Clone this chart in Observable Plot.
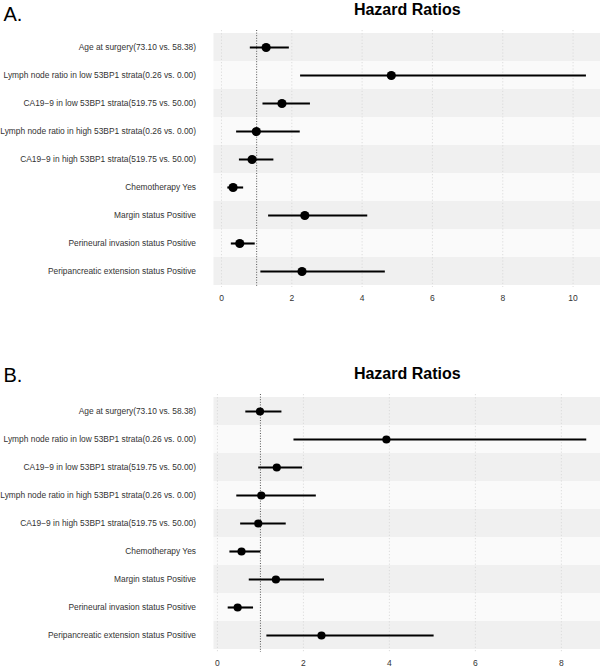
<!DOCTYPE html>
<html>
<head>
<meta charset="utf-8">
<script src="https://cdn.jsdelivr.net/npm/d3@7"></script>
<script src="https://cdn.jsdelivr.net/npm/@observablehq/plot@0.6"></script>
<style>
  html, body { margin: 0; padding: 0; background: #ffffff; }
  #chart { width: 600px; height: 668px; position: relative; overflow: hidden; }
  #chart svg { display: block; }
</style>
</head>
<body>
<div id="chart"></div>
<script>
// ---- data ----
const labels = [
  "Age at surgery(73.10 vs. 58.38)",
  "Lymph node ratio in low 53BP1 strata(0.26 vs. 0.00)",
  "CA19\u22129 in low 53BP1 strata(519.75 vs. 50.00)",
  "Lymph node ratio in high 53BP1 strata(0.26 vs. 0.00)",
  "CA19\u22129 in high 53BP1 strata(519.75 vs. 50.00)",
  "Chemotherapy Yes",
  "Margin status Positive",
  "Perineural invasion status Positive",
  "Peripancreatic extension status Positive"
];
const panelTitles = ["A.", "B."];
const chartTitle = "Hazard Ratios";

const hrA   = [1.27, 4.83, 1.72, 0.99, 0.87, 0.33, 2.37, 0.52, 2.29];
const lowA  = [0.82, 2.25, 1.18, 0.43, 0.51, 0.18, 1.34, 0.28, 1.12];
const highA = [1.93, 10.38, 2.53, 2.24, 1.49, 0.63, 4.16, 0.96, 4.66];

const hrB   = [0.99, 3.93, 1.38, 1.02, 0.95, 0.56, 1.36, 0.47, 2.42];
const lowB  = [0.66, 1.78, 0.96, 0.45, 0.54, 0.29, 0.74, 0.25, 1.15];
const highB = [1.50, 8.59, 1.98, 2.30, 1.60, 1.01, 2.49, 0.84, 5.04];

const ticksA = [0, 2, 4, 6, 8, 10];
const ticksB = [0, 2, 4, 6, 8];
const refLine = [1];

function panel(opts) {
  const rows = labels.map((label, i) => ({
    label, i, hr: opts.hr[i], low: opts.low[i], high: opts.high[i]
  }));
  return Plot.plot({
    width: 600,
    height: 334,
    marginLeft: 213.5,
    marginRight: 0,
    marginTop: opts.marginTop,
    marginBottom: opts.marginBottom,
    style: {
      fontFamily: "'Liberation Sans', Arial, Helvetica, sans-serif",
      fontSize: "8.4px",
      color: "#333",
      background: "transparent",
      overflow: "visible"
    },
    x: { domain: opts.domain },
    y: { domain: labels, padding: 0 },
    marks: [
      Plot.cell(rows.filter(d => d.i % 2 === 0), { y: "label", fill: "#f0f0f0" }),
      Plot.cell(rows.filter(d => d.i % 2 === 1), { y: "label", fill: "#fafafa" }),
      Plot.ruleX(opts.ticks, { stroke: "#d6d6d6", strokeWidth: 0.8, strokeDasharray: "1.2,2" }),
      Plot.ruleX(refLine, { stroke: "#444", strokeWidth: 0.9, strokeDasharray: "1,1.6" }),
      Plot.ruleY(rows, { y: "label", x1: "low", x2: "high", stroke: "#000", strokeWidth: 2.1 }),
      Plot.dot(rows, { y: "label", x: "hr", r: opts.r, fill: "#000", stroke: "none" }),
      Plot.axisY({ tickSize: 0, tickPadding: 18, label: null, fontSize: 8.4, fill: "#333" }),
      Plot.axisX({ ticks: opts.ticks, tickSize: 0, tickPadding: 7, label: null, fontSize: 8.5, fill: "#333" }),
      Plot.text([chartTitle], {
        text: d => d, frameAnchor: "top", dy: opts.titleDy,
        fontSize: 16, fontWeight: "bold", fill: "#000", lineAnchor: "middle"
      }),
      Plot.text([opts.panelLabel], {
        text: d => d, frameAnchor: "top-left", textAnchor: "start",
        dx: -210.5, dy: opts.labelDy, fontSize: 20, fill: "#000", lineAnchor: "middle"
      })
    ]
  });
}

const chart = document.getElementById("chart");
chart.appendChild(panel({
  hr: hrA, low: lowA, high: highA, ticks: ticksA,
  domain: [-0.213, 10.78], marginTop: 30, marginBottom: 47,
  r: 4.6, titleDy: -21, labelDy: -16.4, panelLabel: panelTitles[0]
}));
chart.appendChild(panel({
  hr: hrB, low: lowB, high: highB, ticks: ticksB,
  domain: [-0.08, 8.91], marginTop: 60, marginBottom: 16,
  r: 4.1, titleDy: -20.8, labelDy: -18.7, panelLabel: panelTitles[1]
}));
</script>
</body>
</html>
